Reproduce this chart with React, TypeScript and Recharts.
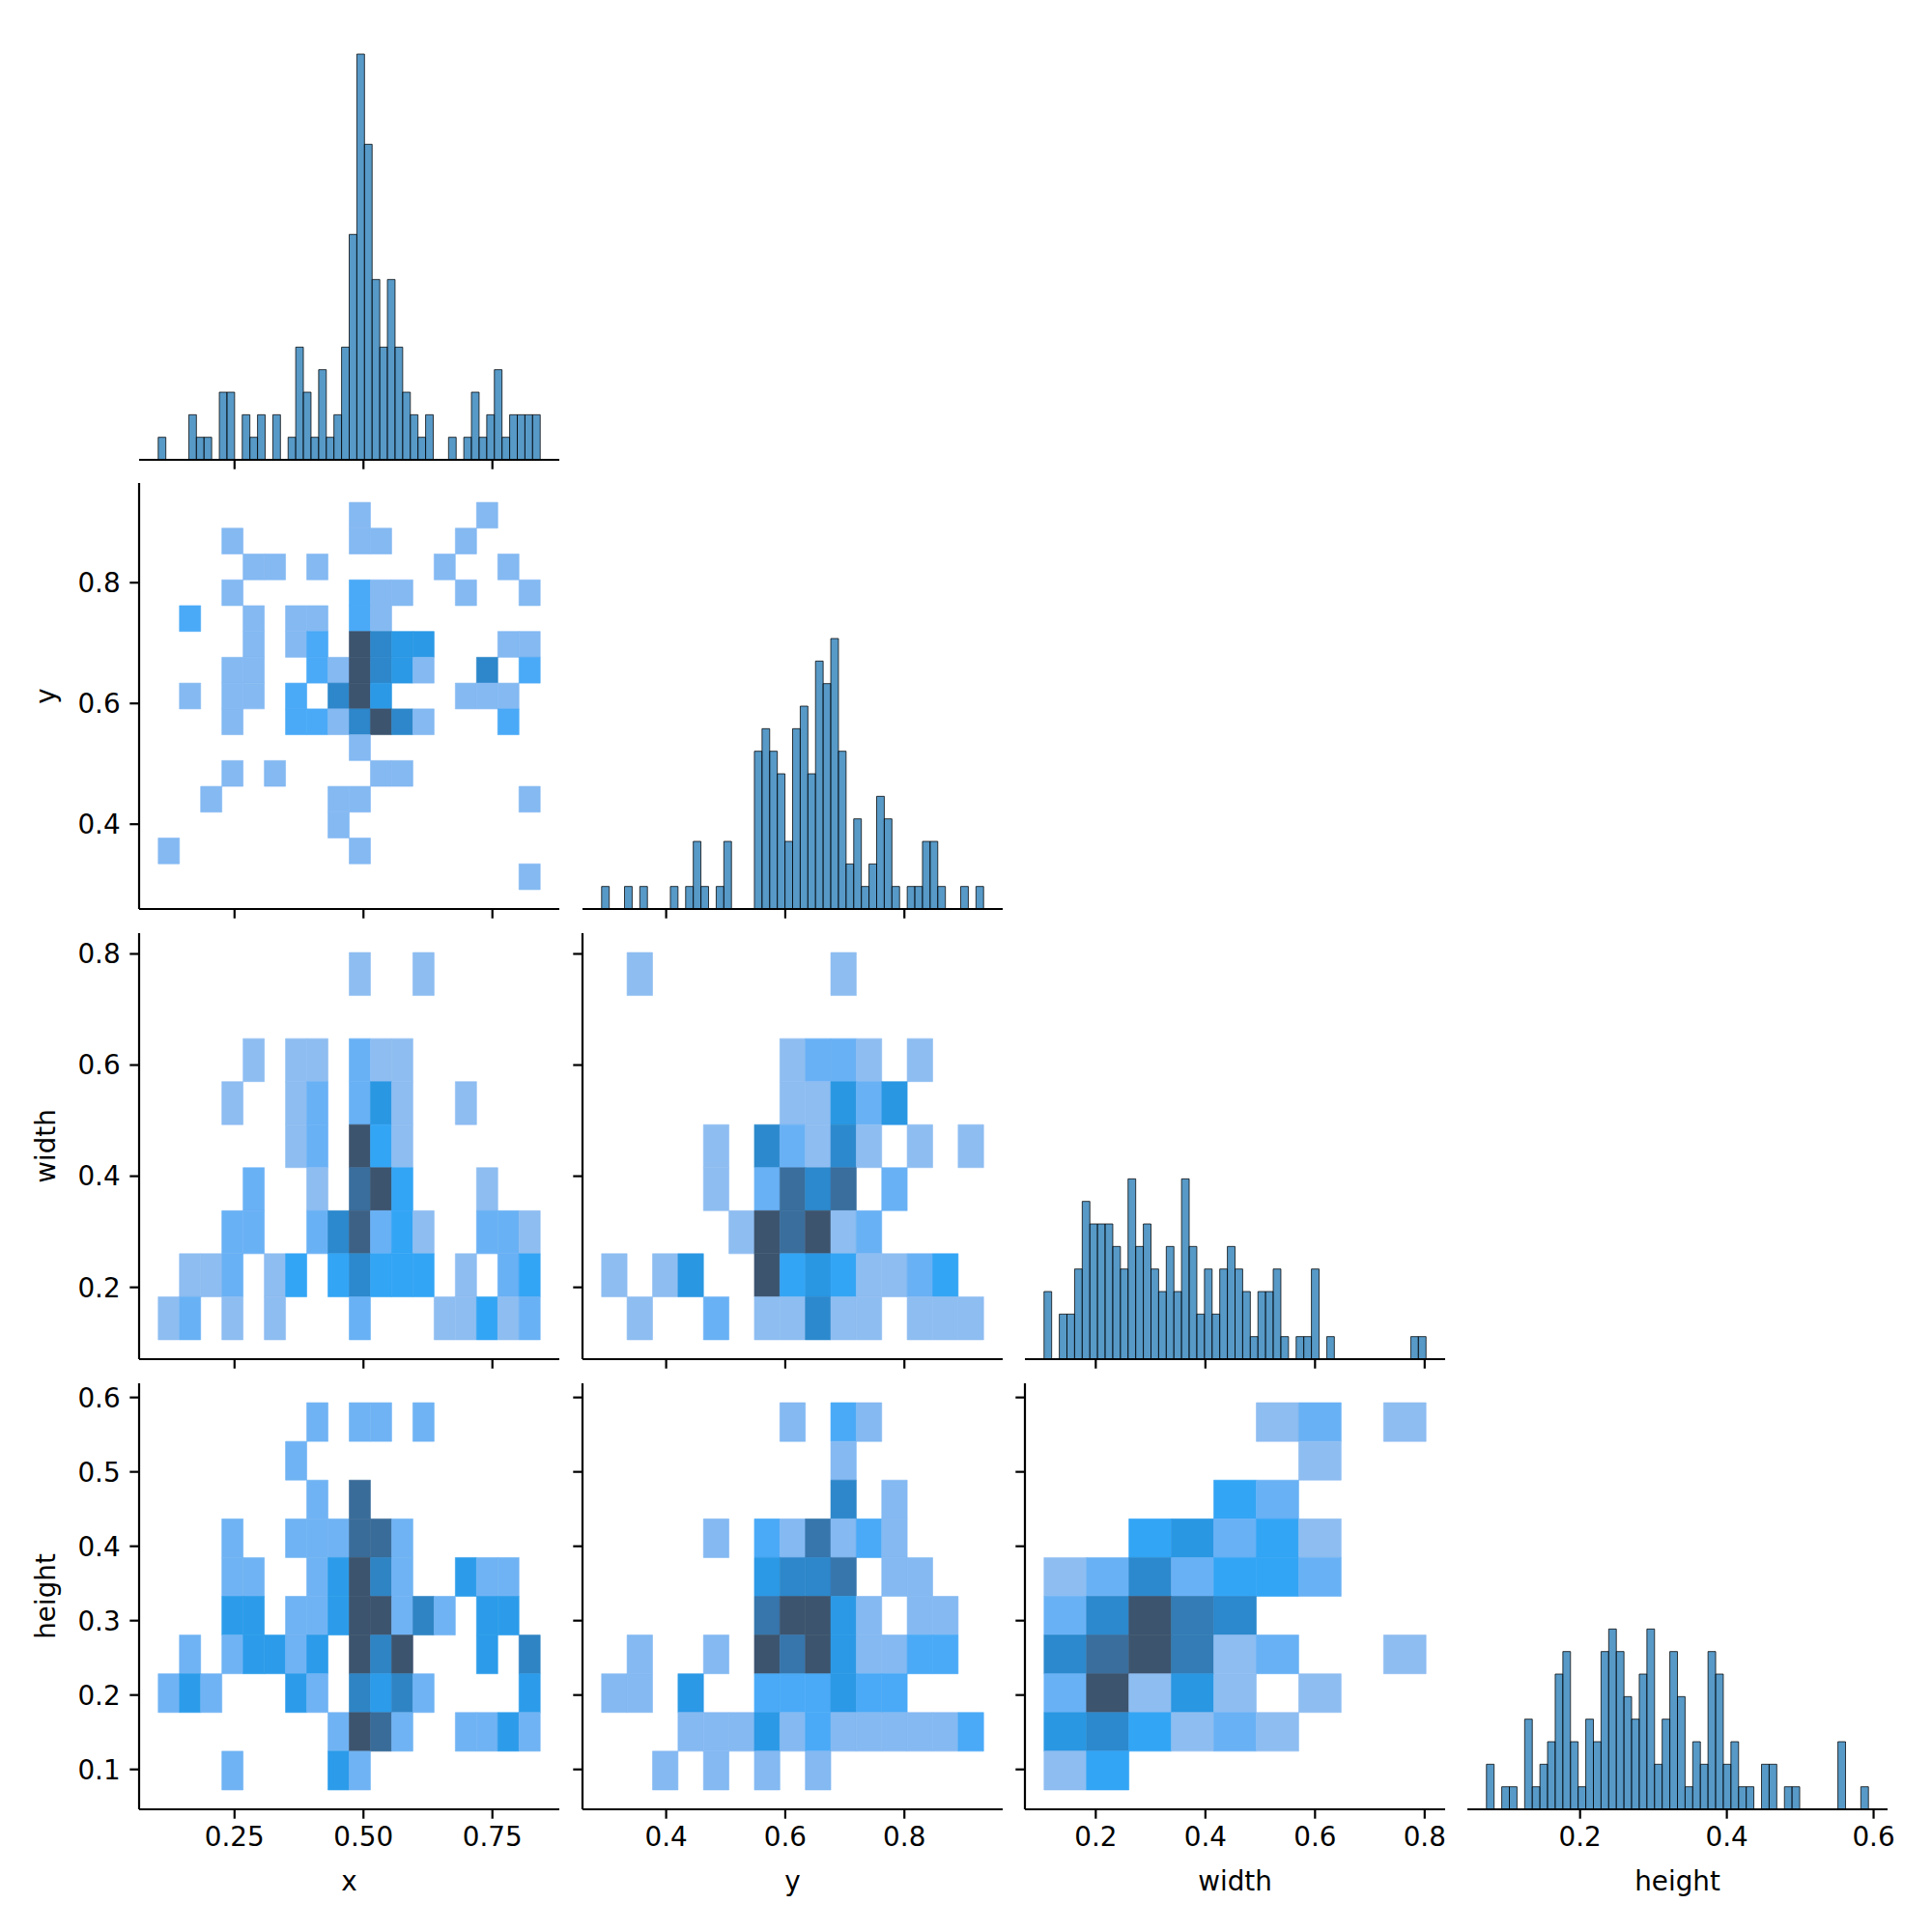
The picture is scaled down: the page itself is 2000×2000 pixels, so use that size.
import React from "react"
import { ScatterChart, Scatter, XAxis, YAxis, ReferenceArea } from "recharts"

// 50-bin histogram counts of each variable (diagonal panels)
const xCounts = [1, 0, 0, 0, 2, 1, 1, 0, 3, 3, 0, 2, 1, 2, 0, 2, 0, 1, 5, 3, 1, 4, 1, 2, 5, 10, 18, 14, 8, 5, 8, 5, 3, 2, 1, 2, 0, 0, 1, 0, 1, 3, 1, 2, 4, 1, 2, 2, 2, 2]
const yCounts = [1, 0, 0, 1, 0, 1, 0, 0, 0, 1, 0, 1, 3, 1, 0, 1, 3, 0, 0, 0, 7, 8, 7, 6, 3, 8, 9, 6, 11, 10, 12, 7, 2, 4, 1, 2, 5, 4, 1, 0, 1, 1, 3, 3, 1, 0, 0, 1, 0, 1]
const widthCounts = [3, 0, 2, 2, 4, 7, 6, 6, 6, 5, 4, 8, 5, 6, 4, 3, 5, 3, 8, 5, 2, 4, 2, 4, 5, 4, 3, 1, 3, 3, 4, 1, 0, 1, 1, 4, 0, 1, 0, 0, 0, 0, 0, 0, 0, 0, 0, 0, 1, 1]
const heightCounts = [2, 0, 1, 1, 0, 4, 1, 2, 3, 6, 7, 3, 1, 4, 3, 7, 8, 7, 5, 4, 6, 8, 2, 4, 7, 5, 1, 3, 2, 7, 6, 2, 3, 1, 1, 0, 2, 2, 0, 1, 1, 0, 0, 0, 0, 0, 3, 0, 0, 1]

// min / max of each variable (outer bin edges)
const xRange: [number, number] = [0.102, 0.8427]
const yRange: [number, number] = [0.2916, 0.933]
const widthRange: [number, number] = [0.1056, 0.8025]
const heightRange: [number, number] = [0.0724, 0.593]

// tick values
const xTicks = [0.25, 0.5, 0.75]
const yTicks = [0.4, 0.6, 0.8]
const widthTicks = [0.2, 0.4, 0.6, 0.8]
const heightBottomTicks = [0.2, 0.4, 0.6]
const heightLeftTicks = [0.1, 0.2, 0.3, 0.4, 0.5, 0.6]

// 2d histogram counts, rows listed from the top bin down
const xyGrid = [
  [0, 0, 0, 0, 0, 0, 0, 0, 0, 1, 0, 0, 0, 0, 0, 1, 0, 0],
  [0, 0, 0, 1, 0, 0, 0, 0, 0, 1, 1, 0, 0, 0, 1, 0, 0, 0],
  [0, 0, 0, 0, 1, 1, 0, 1, 0, 0, 0, 0, 0, 1, 0, 0, 1, 0],
  [0, 0, 0, 1, 0, 0, 0, 0, 0, 2, 1, 1, 0, 0, 1, 0, 0, 1],
  [0, 2, 0, 0, 1, 0, 1, 1, 0, 2, 1, 0, 0, 0, 0, 0, 0, 0],
  [0, 0, 0, 0, 1, 0, 1, 2, 0, 7, 4, 3, 3, 0, 0, 0, 1, 1],
  [0, 0, 0, 1, 1, 0, 0, 2, 1, 7, 4, 3, 1, 0, 0, 4, 0, 2],
  [0, 1, 0, 1, 1, 0, 2, 0, 4, 7, 3, 0, 0, 0, 1, 1, 1, 0],
  [0, 0, 0, 1, 0, 0, 2, 2, 1, 4, 7, 4, 1, 0, 0, 0, 2, 0],
  [0, 0, 0, 0, 0, 0, 0, 0, 0, 1, 0, 0, 0, 0, 0, 0, 0, 0],
  [0, 0, 0, 1, 0, 1, 0, 0, 0, 0, 1, 1, 0, 0, 0, 0, 0, 0],
  [0, 0, 1, 0, 0, 0, 0, 0, 1, 1, 0, 0, 0, 0, 0, 0, 0, 1],
  [0, 0, 0, 0, 0, 0, 0, 0, 1, 0, 0, 0, 0, 0, 0, 0, 0, 0],
  [1, 0, 0, 0, 0, 0, 0, 0, 0, 1, 0, 0, 0, 0, 0, 0, 0, 0],
  [0, 0, 0, 0, 0, 0, 0, 0, 0, 0, 0, 0, 0, 0, 0, 0, 0, 1],
]

const xWidthGrid = [
  [0, 0, 0, 0, 0, 0, 0, 0, 0, 1, 0, 0, 1, 0, 0, 0, 0, 0],
  [0, 0, 0, 0, 0, 0, 0, 0, 0, 0, 0, 0, 0, 0, 0, 0, 0, 0],
  [0, 0, 0, 0, 1, 0, 1, 1, 0, 2, 1, 1, 0, 0, 0, 0, 0, 0],
  [0, 0, 0, 1, 0, 0, 1, 2, 0, 2, 4, 1, 0, 0, 1, 0, 0, 0],
  [0, 0, 0, 0, 0, 0, 1, 2, 0, 9, 3, 1, 0, 0, 0, 0, 0, 0],
  [0, 0, 0, 0, 2, 0, 0, 1, 0, 7, 9, 3, 0, 0, 0, 1, 0, 0],
  [0, 0, 0, 2, 2, 0, 0, 2, 5, 8, 2, 3, 1, 0, 0, 2, 2, 1],
  [0, 1, 1, 2, 0, 1, 3, 0, 3, 5, 3, 3, 3, 0, 1, 0, 2, 3],
  [1, 2, 0, 1, 0, 1, 0, 0, 0, 2, 0, 0, 0, 1, 1, 3, 1, 2],
]

const yWidthGrid = [
  [0, 1, 0, 0, 0, 0, 0, 0, 0, 1, 0, 0, 0, 0, 0],
  [0, 0, 0, 0, 0, 0, 0, 0, 0, 0, 0, 0, 0, 0, 0],
  [0, 0, 0, 0, 0, 0, 0, 1, 2, 2, 1, 0, 1, 0, 0],
  [0, 0, 0, 0, 0, 0, 0, 1, 1, 4, 2, 4, 0, 0, 0],
  [0, 0, 0, 0, 1, 0, 5, 2, 1, 5, 1, 0, 1, 0, 1],
  [0, 0, 0, 0, 1, 0, 2, 7, 5, 7, 0, 2, 0, 0, 0],
  [0, 0, 0, 0, 0, 1, 9, 7, 9, 1, 2, 0, 0, 0, 0],
  [1, 0, 1, 4, 0, 0, 9, 3, 4, 3, 1, 1, 2, 3, 0],
  [0, 1, 0, 0, 2, 0, 1, 1, 5, 1, 1, 0, 1, 1, 1],
]

const xHeightGrid = [
  [0, 0, 0, 0, 0, 0, 0, 1, 0, 1, 1, 0, 1, 0, 0, 0, 0, 0],
  [0, 0, 0, 0, 0, 0, 1, 0, 0, 0, 0, 0, 0, 0, 0, 0, 0, 0],
  [0, 0, 0, 0, 0, 0, 0, 1, 0, 4, 0, 0, 0, 0, 0, 0, 0, 0],
  [0, 0, 0, 1, 0, 0, 1, 1, 1, 4, 4, 1, 0, 0, 0, 0, 0, 0],
  [0, 0, 0, 1, 1, 0, 0, 1, 2, 5, 3, 1, 0, 0, 2, 1, 1, 0],
  [0, 0, 0, 2, 2, 0, 1, 1, 2, 5, 5, 1, 3, 1, 0, 2, 2, 0],
  [0, 1, 0, 1, 2, 2, 1, 2, 0, 5, 3, 5, 0, 0, 0, 2, 0, 3],
  [1, 2, 1, 0, 0, 0, 2, 1, 0, 3, 2, 3, 1, 0, 0, 0, 0, 2],
  [0, 0, 0, 0, 0, 0, 0, 0, 1, 5, 4, 1, 0, 0, 1, 1, 2, 1],
  [0, 0, 0, 1, 0, 0, 0, 0, 2, 1, 0, 0, 0, 0, 0, 0, 0, 0],
]

const yHeightGrid = [
  [0, 0, 0, 0, 0, 0, 0, 1, 0, 2, 1, 0, 0, 0, 0],
  [0, 0, 0, 0, 0, 0, 0, 0, 0, 1, 0, 0, 0, 0, 0],
  [0, 0, 0, 0, 0, 0, 0, 0, 0, 4, 0, 1, 0, 0, 0],
  [0, 0, 0, 0, 1, 0, 2, 1, 5, 1, 2, 1, 0, 0, 0],
  [0, 0, 0, 0, 0, 0, 3, 4, 4, 5, 0, 1, 1, 0, 0],
  [0, 0, 0, 0, 0, 0, 5, 7, 7, 3, 1, 0, 1, 1, 0],
  [0, 1, 0, 0, 1, 0, 7, 5, 7, 3, 1, 1, 2, 2, 0],
  [1, 1, 0, 3, 0, 0, 2, 2, 2, 3, 2, 2, 0, 0, 0],
  [0, 0, 0, 1, 1, 1, 3, 1, 2, 1, 1, 1, 1, 1, 2],
  [0, 0, 1, 0, 1, 0, 1, 0, 1, 0, 0, 0, 0, 0, 0],
]

const widthHeightGrid = [
  [0, 0, 0, 0, 0, 1, 2, 0, 1],
  [0, 0, 0, 0, 0, 0, 1, 0, 0],
  [0, 0, 0, 0, 3, 2, 0, 0, 0],
  [0, 0, 3, 4, 2, 3, 1, 0, 0],
  [1, 2, 5, 2, 3, 3, 2, 0, 0],
  [2, 5, 9, 6, 5, 0, 0, 0, 0],
  [5, 7, 9, 6, 1, 2, 0, 0, 1],
  [2, 9, 1, 4, 1, 0, 1, 0, 0],
  [4, 5, 3, 1, 2, 1, 0, 0, 0],
  [1, 3, 0, 0, 0, 0, 0, 0, 0],
]

interface Variable {
  label: string
  range: [number, number]
  counts: number[]
  bottomTicks: number[]
  leftTicks: number[]
  digits: number
}

const variables: Variable[] = [
  { label: "x", range: xRange, counts: xCounts, bottomTicks: xTicks, leftTicks: xTicks, digits: 2 },
  { label: "y", range: yRange, counts: yCounts, bottomTicks: yTicks, leftTicks: yTicks, digits: 1 },
  { label: "width", range: widthRange, counts: widthCounts, bottomTicks: widthTicks, leftTicks: widthTicks, digits: 1 },
  { label: "height", range: heightRange, counts: heightCounts, bottomTicks: heightBottomTicks, leftTicks: heightLeftTicks, digits: 1 },
]

// key is "row-col" (row = y variable, col = x variable)
const grids: Record<string, number[][]> = {
  "1-0": xyGrid,
  "2-0": xWidthGrid,
  "2-1": yWidthGrid,
  "3-0": xHeightGrid,
  "3-1": yHeightGrid,
  "3-2": widthHeightGrid,
}

// layout
const FONT = "DejaVu Sans, sans-serif"
const FS = 27.8
const LW = 2.2
const COL_LEFT = [144, 603, 1061, 1519]
const ROW_TOP = [35, 500, 966, 1432]
const BOX_W = 435
const BOX_H = 441
const PAD_L = 144
const PAD_T = 20
const PAD_R = 20
const PAD_B = 127
const BASE = "#1f77b4"

// --- husl colour helpers (same math seaborn uses for its 2d histogram cmap) ---
const M = [
  [3.2406, -1.5372, -0.4986],
  [-0.9689, 1.8758, 0.0415],
  [0.0557, -0.204, 1.057],
]
const M_INV = [
  [0.4124, 0.3576, 0.1805],
  [0.2126, 0.7152, 0.0722],
  [0.0193, 0.1192, 0.9505],
]
const REF_U = 0.19784
const REF_V = 0.46834
const LAB_E = 0.008856
const LAB_K = 903.3

function maxChroma(L: number, H: number) {
  const hrad = (H * Math.PI) / 180
  const sinH = Math.sin(hrad)
  const cosH = Math.cos(hrad)
  const sub1 = Math.pow(L + 16, 3) / 1560896.0
  const sub2 = sub1 > 0.008856 ? sub1 : L / 903.3
  let result = Infinity
  for (const [m1, m2, m3] of M) {
    const top = (0.99915 * m1 + 1.05122 * m2 + 1.1446 * m3) * sub2
    const rbottom = 0.8633 * m3 - 0.17266 * m2
    const lbottom = 0.12949 * m3 - 0.38848 * m1
    const bottom = (rbottom * sinH + lbottom * cosH) * sub2
    for (const t of [0, 1]) {
      const C = (L * (top - 1.05122 * t)) / (bottom + 0.17266 * sinH * t)
      if (C > 0 && C < result) result = C
    }
  }
  return result
}

function huslToRgb(h: number, s: number, l: number): number[] {
  if (l > 99.9999999) return [1, 1, 1]
  if (l < 1e-8) return [0, 0, 0]
  const C = (maxChroma(l, h) / 100) * s
  const hrad = (h * Math.PI) / 180
  const U = C * Math.cos(hrad)
  const V = C * Math.sin(hrad)
  const t = (l + 16) / 116
  const varY = t * t * t > LAB_E ? t * t * t : (116 * t - 16) / LAB_K
  const varU = U / (13 * l) + REF_U
  const varV = V / (13 * l) + REF_V
  const Y = varY
  const X = -(9 * Y * varU) / ((varU - 4) * varV - varU * varV)
  const Z = (9 * Y - 15 * varV * Y - varV * X) / (3 * varV)
  return M.map((row) => {
    const c = row[0] * X + row[1] * Y + row[2] * Z
    const v = c <= 0.0031308 ? 12.92 * c : 1.055 * Math.pow(c, 1 / 2.4) - 0.055
    return Math.min(1, Math.max(0, v))
  })
}

function rgbToHusl(r: number, g: number, b: number): number[] {
  const lin = [r, g, b].map((c) => (c > 0.04045 ? Math.pow((c + 0.055) / 1.055, 2.4) : c / 12.92))
  const [X, Y, Z] = M_INV.map((row) => row[0] * lin[0] + row[1] * lin[1] + row[2] * lin[2])
  const denom = X + 15 * Y + 3 * Z
  const varU = (4 * X) / denom
  const varV = (9 * Y) / denom
  const fy = Y > LAB_E ? Math.cbrt(Y) : 7.787 * Y + 16 / 116
  const L = 116 * fy - 16
  const U = 13 * L * (varU - REF_U)
  const V = 13 * L * (varV - REF_V)
  const C = Math.sqrt(U * U + V * V)
  let H = (Math.atan2(V, U) * 180) / Math.PI
  if (H < 0) H += 360
  return [H, (C / maxChroma(L, H)) * 100, L]
}

const [baseH, baseS] = rgbToHusl(0x1f / 255, 0x77 / 255, 0xb4 / 255)

function toHex(rgb: number[]) {
  return "#" + rgb.map((v) => Math.round(v * 255).toString(16).padStart(2, "0")).join("")
}

// seaborn _cmap_from_color, reversed, sampled at fraction f
function cmapColor(f: number) {
  const i = Math.min(255, Math.floor(f * 256))
  const j = 255 - i
  const xx = -1 + (2 * j) / 293
  const L = 35 + (45 * j) / 255
  return toHex(huslToRgb(baseH, baseS * Math.cos(xx), L))
}

function padded(range: [number, number]): [number, number] {
  const m = (range[1] - range[0]) * 0.05
  return [range[0] - m, range[1] + m]
}

const diagMax = Math.max(...variables.map((v) => Math.max(...v.counts)))
const diagDomain: [number, number] = [0, diagMax * 1.05]

const NoDot = () => <g />

interface Cell {
  x1: number
  x2: number
  y1: number
  y2: number
  cx: number
  cy: number
  fill: string
}

function Panel({ row, col }: { row: number; col: number }) {
  const xv = variables[col]
  const yv = variables[row]
  const isDiag = row === col
  const showXLabels = row === 3
  const showYLabels = col === 0 && !isDiag
  const xDomain = padded(xv.range)
  const yDomain = isDiag ? diagDomain : padded(yv.range)

  const cells: Cell[] = []
  if (isDiag) {
    const n = xv.counts.length
    const w = (xv.range[1] - xv.range[0]) / n
    xv.counts.forEach((c, i) => {
      if (c <= 0) return
      const x1 = xv.range[0] + i * w
      cells.push({ x1, x2: x1 + w, y1: 0, y2: c, cx: x1 + w / 2, cy: c / 2, fill: BASE })
    })
  } else {
    const grid = grids[`${row}-${col}`]
    const ny = grid.length
    const nx = grid[0].length
    const wx = (xv.range[1] - xv.range[0]) / nx
    const wy = (yv.range[1] - yv.range[0]) / ny
    const vmax = Math.max(...grid.map((r) => Math.max(...r)))
    grid.forEach((line, r) => {
      const bin = ny - 1 - r
      line.forEach((c, i) => {
        if (c <= 0) return
        const x1 = xv.range[0] + i * wx
        const y1 = yv.range[0] + bin * wy
        cells.push({ x1, x2: x1 + wx, y1, y2: y1 + wy, cx: x1 + wx / 2, cy: y1 + wy / 2, fill: cmapColor(c / vmax) })
      })
    })
  }

  const tickStyle = { fill: "#000", fontSize: FS, fontFamily: FONT }
  const cy = PAD_T + BOX_H / 2

  return (
    <div style={{ position: "absolute", left: COL_LEFT[col] - PAD_L, top: ROW_TOP[row] - PAD_T }}>
      <ScatterChart
        width={BOX_W + PAD_L + PAD_R}
        height={BOX_H + PAD_T + PAD_B}
        margin={{ top: PAD_T, right: PAD_R, bottom: 0, left: isDiag ? PAD_L : 0 }}
      >
        <XAxis
          type="number"
          dataKey="cx"
          domain={xDomain}
          allowDataOverflow
          ticks={xv.bottomTicks}
          interval={0}
          height={PAD_B}
          stroke="#000"
          axisLine={{ stroke: "#000", strokeWidth: LW }}
          tickLine={{ stroke: "#000", strokeWidth: LW }}
          tickSize={9.7}
          tickMargin={9}
          tick={tickStyle}
          tickFormatter={(v: number) => (showXLabels ? v.toFixed(xv.digits) : "")}
          label={
            showXLabels
              ? {
                  content: () => (
                    <text x={PAD_L + BOX_W / 2} y={PAD_T + BOX_H + 84} textAnchor="middle" fontSize={FS} fontFamily={FONT} fill="#000">
                      {xv.label}
                    </text>
                  ),
                }
              : undefined
          }
        />
        <YAxis
          type="number"
          dataKey="cy"
          domain={yDomain}
          allowDataOverflow
          hide={isDiag}
          ticks={isDiag ? undefined : yv.leftTicks}
          interval={0}
          width={PAD_L}
          stroke="#000"
          axisLine={{ stroke: "#000", strokeWidth: LW }}
          tickLine={{ stroke: "#000", strokeWidth: LW }}
          tickSize={9.7}
          tickMargin={9.7}
          tick={tickStyle}
          tickFormatter={(v: number) => (showYLabels ? v.toFixed(yv.digits) : "")}
          label={
            showYLabels
              ? {
                  content: () => (
                    <text x={57} y={cy} transform={`rotate(-90 57 ${cy})`} textAnchor="middle" fontSize={FS} fontFamily={FONT} fill="#000">
                      {yv.label}
                    </text>
                  ),
                }
              : undefined
          }
        />
        <Scatter data={cells} shape={NoDot} isAnimationActive={false} />
        {cells.map((c, i) =>
          isDiag ? (
            <ReferenceArea
              key={i}
              x1={c.x1}
              x2={c.x2}
              y1={c.y1}
              y2={c.y2}
              fill={BASE}
              fillOpacity={0.75}
              stroke="#000"
              strokeOpacity={0.75}
              strokeWidth={1}
              ifOverflow="visible"
            />
          ) : (
            <ReferenceArea
              key={i}
              x1={c.x1}
              x2={c.x2}
              y1={c.y1}
              y2={c.y2}
              fill={c.fill}
              fillOpacity={1}
              stroke={c.fill}
              strokeWidth={0.6}
              ifOverflow="visible"
            />
          )
        )}
      </ScatterChart>
    </div>
  )
}

export default function App() {
  const panels: { row: number; col: number }[] = []
  for (let row = 0; row < 4; row++) {
    for (let col = 0; col <= row; col++) panels.push({ row, col })
  }
  return (
    <div style={{ position: "absolute", left: 0, top: 0, width: 2000, height: 2000, background: "#fff" }}>
      {panels.map((p) => (
        <Panel key={`${p.row}-${p.col}`} row={p.row} col={p.col} />
      ))}
    </div>
  )
}
